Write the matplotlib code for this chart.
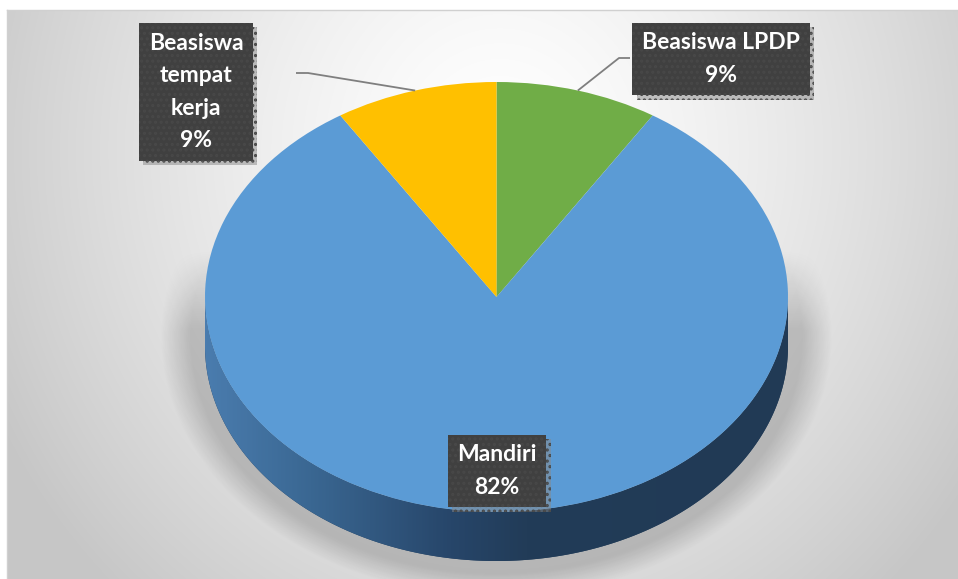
import numpy as np
import matplotlib
matplotlib.use("Agg")
import matplotlib.pyplot as plt
from matplotlib.colors import LinearSegmentedColormap
from matplotlib.patches import Polygon
import matplotlib.patheffects as pe

# ---------------- data ----------------
categories = ["Beasiswa LPDP", "Mandiri", "Beasiswa tempat kerja"]
values = [9, 82, 9]
colors = ["#70ad47", "#5b9bd5", "#ffc000"]

# ---------------- layout ----------------
W, H = 958, 579
cx, cy = 496.5, 297.0      # centre of top face (pixels, y down)
rx, ry = 291.5, 215.0      # radii of top face
depth = 49.0               # thickness of the 3D side
label_xy = [(721, 59), (497, 471), (196, 92)]
label_wrap = [False, False, True]
leader_bends = [[(619, 58), (630, 58)], None, [(308, 73), (296, 73)]]

fig = plt.figure(figsize=(W / 100, H / 100), dpi=100)
fig.patch.set_facecolor("white")
plt.rcParams["hatch.linewidth"] = 1.5

# ---- background (plot area gradient) ----
ax_bg = fig.add_axes([0, 0, 1, 1])
ax_bg.set_xlim(0, W)
ax_bg.set_ylim(H, 0)
ax_bg.axis("off")
yy, xx = np.mgrid[10:H, 7:W] + 0.5
t = np.sqrt(((xx - 500) / 560.0) ** 2 + ((yy - 150) / 600.0) ** 2)
g = 1 - 0.22 * np.clip(t, 0, 1) ** 1.4
bg = np.dstack([g, g, g])
ax_bg.imshow(bg, extent=(7, W, H, 10), aspect="auto", zorder=0, interpolation="bilinear")
ax_bg.plot([7, W], [10, 10], color="#d0d0d0", lw=1, zorder=1)
ax_bg.plot([7, 7], [10, H], color="#d0d0d0", lw=1, zorder=1)

# soft shadow around the lower part of the pie
r = np.sqrt(((xx - cx) / (rx + 14)) ** 2 + ((yy - (cy + depth * 0.8)) / (ry + 22)) ** 2)
alpha = 0.18 * np.clip((1.10 - r) / 0.10, 0, 1) * np.clip((yy - 250) / 80.0, 0, 1)
sh = np.zeros((yy.shape[0], yy.shape[1], 4))
sh[..., 3] = alpha
ax_bg.imshow(sh, extent=(7, W, H, 10), aspect="auto", zorder=2, interpolation="bilinear")
ax_bg.set_xlim(0, W)
ax_bg.set_ylim(H, 0)

# ---- pie axes (ellipse via non-equal aspect) ----
d = depth / ry
left = (cx - rx) / W
width = 2 * rx / W
bottom = (H - (cy + ry + depth)) / H
height = (2 * ry + depth) / H
ax = fig.add_axes([left, bottom, width, height])
ax.patch.set_alpha(0)

theta = np.linspace(np.pi, 2 * np.pi, 300)
top_x, top_y = np.cos(theta), np.sin(theta)
verts = np.concatenate([np.column_stack([top_x, top_y]),
                        np.column_stack([top_x[::-1], top_y[::-1] - d])])
side = Polygon(verts, closed=True, facecolor="#243f5c", edgecolor="none", zorder=0.5)
ax.add_patch(side)
side_cmap = LinearSegmentedColormap.from_list(
    "side", [(0.0, "#4a7cae"), (0.18, "#3a6792"), (0.42, "#27466a"), (0.55, "#223c58"), (1.0, "#213a55")])
grad = np.linspace(0, 1, 400)[None, :]
im = ax.imshow(grad, extent=(-1, 1, -1 - d, 0), cmap=side_cmap, aspect="auto", zorder=0.6)
im.set_clip_path(side)

wedges, _ = ax.pie(values, colors=colors, startangle=90, counterclock=False,
                   radius=1, wedgeprops=dict(linewidth=0))
ax.set_aspect("auto")
ax.set_xlim(-1, 1)
ax.set_ylim(-1 - d, 1)
ax.axis("off")

# ---- overlay for labels ----
ov = fig.add_axes([0, 0, 1, 1])
ov.set_xlim(0, W)
ov.set_ylim(H, 0)
ov.axis("off")
ov.patch.set_alpha(0)

total = float(sum(values))
start = 90.0
for i, (cat, v) in enumerate(zip(categories, values)):
    sweep = v / total * 360.0
    mid = np.deg2rad(start - sweep / 2)
    start -= sweep
    name = cat.replace(" ", "\n") if label_wrap[i] else cat
    txt = f"{name}\n{v / total * 100:.0f}%"
    tx, ty = label_xy[i]
    if leader_bends[i] is not None:
        ex = cx + rx * np.cos(mid)
        ey = cy - ry * np.sin(mid)
        pts = [(ex, ey)] + leader_bends[i]
        ov.plot([p[0] for p in pts], [p[1] for p in pts], color="#7f7f7f", lw=1.3,
                solid_capstyle="butt")
    te = ov.text(tx, ty, txt, ha="center", va="center", multialignment="center",
                 color="white", fontsize=16.5, fontweight="bold", family="Lato",
                 linespacing=1.68,
                 bbox=dict(boxstyle="square,pad=0.42", facecolor="#404040",
                           edgecolor="#484848", linewidth=0, hatch="..."))
    te.get_bbox_patch().set_path_effects(
        [pe.SimplePatchShadow(offset=(3, -3), shadow_rgbFace="#888888", alpha=0.5), pe.Normal()])

fig.savefig("out.png", dpi=100, facecolor=fig.get_facecolor())
